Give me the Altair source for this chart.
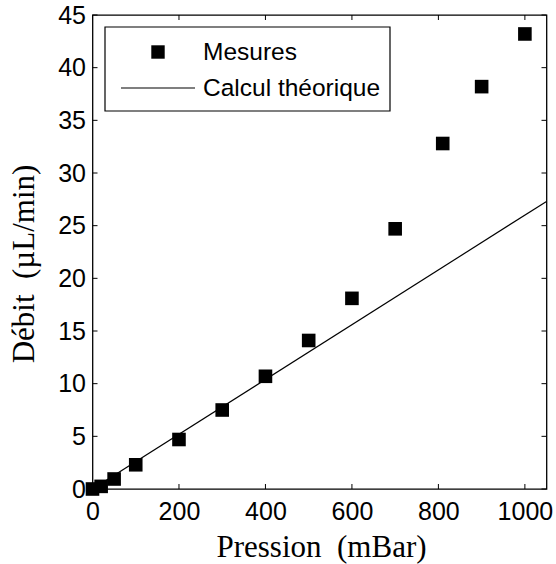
import altair as alt
import pandas as pd

# Data
pressions = [0, 20, 50, 100, 200, 300, 400, 500, 600, 700, 810, 900, 1000]
debits = [0.0, 0.25, 0.95, 2.3, 4.7, 7.5, 10.7, 14.1, 18.1, 24.7, 32.8, 38.2, 43.2]
theorie_p = [0, 1050]
theorie_d = [0.0, 27.3]
x_ticks = [0, 200, 400, 600, 800, 1000]
y_ticks = [0, 5, 10, 15, 20, 25, 30, 35, 40, 45]
legend_labels = ["Mesures", "Calcul théorique"]
x_title = "Pression\u00a0\u00a0(mBar)"
y_title = "Débit\u00a0\u00a0(µL/min)"

W, H = 454, 474

df_pts = pd.DataFrame({"p": pressions, "d": debits})
df_line = pd.DataFrame({"p": theorie_p, "d": theorie_d})
df_xt = pd.DataFrame({"p": x_ticks})
df_yt = pd.DataFrame({"d": y_ticks})
df_one = pd.DataFrame({"k": [0]})

xs = alt.Scale(domain=[0, 1050], nice=False, zero=False)
ys = alt.Scale(domain=[0, 45], nice=False, zero=False)

xaxis = alt.Axis(
    values=x_ticks, format="d", title=x_title, grid=False, domain=False, ticks=False,
    labelFont="Liberation Sans", labelFontSize=25, labelColor="black",
    labelPadding=10, labelFlush=False,
    titleFont="Liberation Serif", titleFontSize=31, titleFontWeight="normal",
    titleColor="black", titleX=228.5, titleY=67, titleBaseline="alphabetic",
    titleAlign="center",
)
yaxis = alt.Axis(
    values=y_ticks, format="d", title=y_title, grid=False, domain=False, ticks=False,
    labelFont="Liberation Sans", labelFontSize=25, labelColor="black",
    labelPadding=7, labelFlush=False,
    titleFont="Liberation Serif", titleFontSize=31, titleFontWeight="normal",
    titleColor="black", titleX=-59.5, titleY=248.5, titleBaseline="alphabetic",
    titleAlign="center", titleAngle=270,
)

X = lambda: alt.X("p:Q", scale=xs, axis=xaxis)
Y = lambda: alt.Y("d:Q", scale=ys, axis=yaxis)

tick_len = 5
bottom_ticks = alt.Chart(df_xt).mark_rule(color="black", strokeWidth=1).encode(
    x=X(), y=alt.value(H), y2=alt.value(H - tick_len))
top_ticks = alt.Chart(df_xt).mark_rule(color="black", strokeWidth=1).encode(
    x=X(), y=alt.value(0), y2=alt.value(tick_len))
left_ticks = alt.Chart(df_yt).mark_rule(color="black", strokeWidth=1).encode(
    y=Y(), x=alt.value(0), x2=alt.value(tick_len))
right_ticks = alt.Chart(df_yt).mark_rule(color="black", strokeWidth=1).encode(
    y=Y(), x=alt.value(W), x2=alt.value(W - tick_len))

line = alt.Chart(df_line).mark_line(color="black", strokeWidth=1.2).encode(x=X(), y=Y())
pts = alt.Chart(df_pts).mark_point(
    shape="square", filled=True, size=185, color="black", opacity=1, strokeWidth=0
).encode(x=X(), y=Y())

# Legend box
leg_box = alt.Chart(df_one).mark_rect(
    fill="white", stroke="black", strokeWidth=1.2
).encode(x=alt.value(12.5), x2=alt.value(297.5), y=alt.value(12), y2=alt.value(96))
leg_pt = alt.Chart(df_one).mark_point(
    shape="square", filled=True, size=180, color="black", opacity=1, strokeWidth=0
).encode(x=alt.value(65.5), y=alt.value(37))
leg_line = alt.Chart(df_one).mark_rule(color="black", strokeWidth=1.2).encode(
    x=alt.value(28.5), x2=alt.value(102.5), y=alt.value(73))
leg_t1 = alt.Chart(df_one).mark_text(
    font="Liberation Sans", fontSize=24.5, align="left", baseline="middle", color="black"
).encode(x=alt.value(110.5), y=alt.value(38), text=alt.value(legend_labels[0]))
leg_t2 = alt.Chart(df_one).mark_text(
    font="Liberation Sans", fontSize=24.5, align="left", baseline="middle", color="black"
).encode(x=alt.value(110.5), y=alt.value(74), text=alt.value(legend_labels[1]))

chart = alt.layer(
    bottom_ticks, top_ticks, left_ticks, right_ticks, line, pts,
    leg_box, leg_pt, leg_line, leg_t1, leg_t2
).properties(
    width=W, height=H,
    autosize=alt.AutoSizeParams(type="none"),
    padding={"left": 92.5, "top": 15, "right": 9.5, "bottom": 75},
    background="white",
).configure_view(stroke="black", strokeWidth=1.3)

chart.save("out.html", embed_options={"renderer": "svg", "actions": False})
